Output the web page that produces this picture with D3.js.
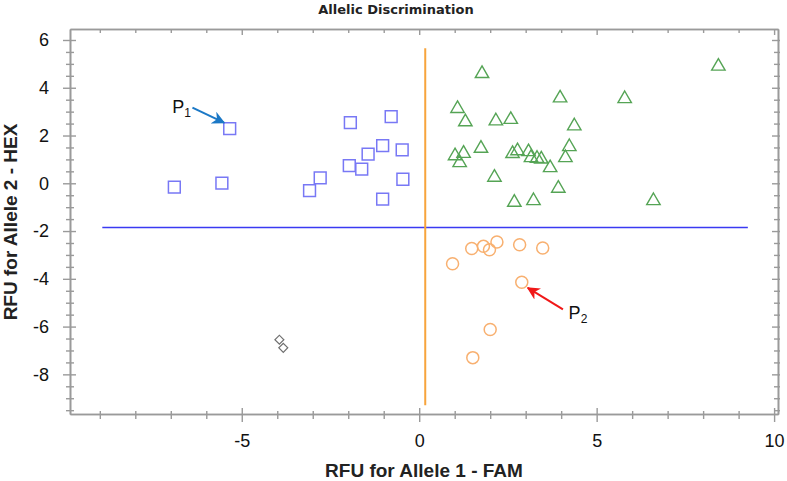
<!DOCTYPE html>
<html>
<head>
<meta charset="utf-8">
<script src="https://cdn.jsdelivr.net/npm/d3@7/dist/d3.min.js"></script>
<style>
  html, body { margin: 0; padding: 0; background: #fff; }
  svg { display: block; font-family: "Liberation Sans", Arial, sans-serif; }
</style>
</head>
<body>
<svg id="chart" width="787" height="481"></svg>
<script>
// ---------- data ----------
const title = "Allelic Discrimination";
const xLabel = "RFU for Allele 1 - FAM";
const yLabel = "RFU for Allele 2 - HEX";

const xMajorTicks = [-5, 0, 5, 10];
const yMajorTicks = [-8, -6, -4, -2, 0, 2, 4, 6];

// Allele 2 homozygotes (blue squares)
const allele2X = [-6.90, -5.56, -5.34, -1.94, -0.79, -1.03, -0.48, -1.44, -1.97, -1.62, -2.79, -3.09, -0.46, -1.03];
const allele2Y = [-0.16, 0.01, 2.29, 2.54, 2.79, 1.58, 1.40, 1.22, 0.74, 0.59, 0.23, -0.31, 0.17, -0.66];

// Heterozygotes (green triangles)
const heteroX = [1.77, 3.97, 1.08, 1.30, 2.16, 2.58, 4.37, 1.74, 1.01, 1.25, 1.14, 2.63, 2.77, 3.08, 3.15, 3.32, 3.44, 3.69, 4.23, 4.12, 2.12, 3.92, 2.68, 3.22, 5.79, 8.43, 6.60];
const heteroY = [4.67, 3.65, 3.21, 2.65, 2.69, 2.75, 2.48, 1.54, 1.23, 1.33, 0.94, 1.32, 1.44, 1.40, 1.15, 1.12, 1.09, 0.73, 1.61, 1.15, 0.33, -0.13, -0.72, -0.65, 3.62, 4.98, -0.65];

// Allele 1 homozygotes (orange circles)
const allele1X = [0.94, 1.48, 1.81, 1.98, 2.19, 2.83, 3.48, 2.89, 2.00, 1.51];
const allele1Y = [-3.37, -2.73, -2.64, -2.78, -2.46, -2.57, -2.71, -4.14, -6.12, -7.30];

// No template controls (gray diamonds)
const ntcX = [-3.94, -3.83];
const ntcY = [-6.55, -6.89];

// Threshold lines
const hLine = { y: -1.85, x0: -8.93, x1: 9.26 };
const vLine = { x: 0.17, y0: 5.65, y1: -9.29 };

// Annotations (data coordinates)
const annotations = [
  { label: "P", sub: "1", tx: -6.96, ty: 2.94, ax0: -6.39, ay0: 3.17, ax1: -5.50, ay1: 2.54, color: "#1b78c6" },
  { label: "P", sub: "2", tx: 4.21, ty: -5.68, ax0: 4.05, ay0: -5.28, ax1: 3.06, ay1: -4.38, color: "#f01818" }
];

// ---------- layout ----------
const svg = d3.select("#chart");
const L = 70, R = 778, T = 29, B = 414;
const x = d3.scaleLinear().domain([-9.84, 10.11]).range([L, R]);
const y = d3.scaleLinear().domain([-9.66, 6.46]).range([B, T]);

const axisColor = "#9a9a9a";
const xMinor = d3.range(-9, 11, 1).filter(v => !xMajorTicks.includes(v));
const yMinor = d3.range(-9.5, 6.5, 0.5).filter(v => !yMajorTicks.includes(v));

function styleAxis(g) {
  g.select(".domain").attr("stroke", axisColor).attr("stroke-width", 1.6);
  g.selectAll(".tick line").attr("stroke", axisColor).attr("stroke-width", 1.4);
  g.selectAll(".tick text").attr("fill", "#111").style("font-size", "18px")
    .style("font-family", "'Liberation Sans', Arial, sans-serif");
}

// bottom axis
svg.append("g").attr("transform", `translate(0,${B})`)
  .call(d3.axisBottom(x).tickValues(xMinor).tickSize(5).tickSizeOuter(0).tickFormat(""))
  .call(styleAxis).call(g => g.selectAll(".tick line").attr("y1", -3));
svg.append("g").attr("transform", `translate(0,${B})`)
  .call(d3.axisBottom(x).tickValues(xMajorTicks).tickSize(8).tickSizeOuter(0).tickPadding(12).tickFormat(d3.format("d")))
  .call(styleAxis).call(g => g.selectAll(".tick line").attr("y1", -6))
  .call(g => g.selectAll(".tick text").text(d => d < 0 ? "-" + Math.abs(d) : d));

// left axis
svg.append("g").attr("transform", `translate(${L},0)`)
  .call(d3.axisLeft(y).tickValues(yMinor).tickSize(4).tickSizeOuter(0).tickFormat(""))
  .call(styleAxis).call(g => g.selectAll(".tick line").attr("x1", 4));
svg.append("g").attr("transform", `translate(${L},0)`)
  .call(d3.axisLeft(y).tickValues(yMajorTicks).tickSize(7).tickSizeOuter(0).tickPadding(14))
  .call(styleAxis).call(g => g.selectAll(".tick line").attr("x1", 6))
  .call(g => g.selectAll(".tick text").text(d => d < 0 ? "-" + Math.abs(d) : d));

// top axis (ticks inside)
svg.append("g").attr("transform", `translate(0,${T})`)
  .call(d3.axisTop(x).tickValues(xMinor).tickSize(-4).tickSizeOuter(0).tickFormat(""))
  .call(styleAxis);
svg.append("g").attr("transform", `translate(0,${T})`)
  .call(d3.axisTop(x).tickValues(xMajorTicks).tickSize(-6).tickSizeOuter(0).tickFormat(""))
  .call(styleAxis);

// right axis (ticks inside)
svg.append("g").attr("transform", `translate(${R},0)`)
  .call(d3.axisRight(y).tickValues(yMinor).tickSize(-4).tickSizeOuter(0).tickFormat(""))
  .call(styleAxis).call(g => g.selectAll(".tick line").attr("x1", 2));
svg.append("g").attr("transform", `translate(${R},0)`)
  .call(d3.axisRight(y).tickValues(yMajorTicks).tickSize(-6).tickSizeOuter(0).tickFormat(""))
  .call(styleAxis).call(g => g.selectAll(".tick line").attr("x1", 2));

// ---------- threshold lines ----------
svg.append("line")
  .attr("x1", x(hLine.x0)).attr("x2", x(hLine.x1))
  .attr("y1", y(hLine.y)).attr("y2", y(hLine.y))
  .attr("stroke", "#3a3af2").attr("stroke-width", 1.6);
svg.append("line")
  .attr("x1", x(vLine.x)).attr("x2", x(vLine.x))
  .attr("y1", y(vLine.y0)).attr("y2", y(vLine.y1))
  .attr("stroke", "#f7a43c").attr("stroke-width", 2);

// ---------- markers ----------
const zip = (xs, ys) => xs.map((v, i) => [v, ys[i]]);
const gPts = svg.append("g");

gPts.selectAll(".sq").data(zip(allele2X, allele2Y)).join("path")
  .attr("d", d3.symbol(d3.symbolSquare, 140)())
  .attr("transform", d => `translate(${x(d[0])},${y(d[1])})`)
  .attr("fill", "none").attr("stroke", "#7878f5").attr("stroke-width", 1.5);

const triSize = 78, triH = Math.sqrt(triSize * Math.sqrt(3));
gPts.selectAll(".tri").data(zip(heteroX, heteroY)).join("path")
  .attr("d", d3.symbol(d3.symbolTriangle, triSize)())
  .attr("transform", d => `translate(${x(d[0])},${y(d[1]) + triH / 6})`)
  .attr("fill", "none").attr("stroke", "#55a455").attr("stroke-width", 1.4);

gPts.selectAll(".ci").data(zip(allele1X, allele1Y)).join("circle")
  .attr("cx", d => x(d[0])).attr("cy", d => y(d[1])).attr("r", 6)
  .attr("fill", "none").attr("stroke", "#f8b070").attr("stroke-width", 1.5);

gPts.selectAll(".di").data(zip(ntcX, ntcY)).join("path")
  .attr("d", d3.symbol(d3.symbolSquare, 40)())
  .attr("transform", d => `translate(${x(d[0])},${y(d[1])}) rotate(45)`)
  .attr("fill", "none").attr("stroke", "#707070").attr("stroke-width", 1.2);

// ---------- annotations ----------
const defs = svg.append("defs");
annotations.forEach((a, i) => {
  defs.append("marker").attr("id", "arr" + i)
    .attr("viewBox", "0 0 10 10").attr("refX", 9).attr("refY", 5)
    .attr("markerWidth", 6.5).attr("markerHeight", 6.5).attr("markerUnits", "strokeWidth")
    .attr("orient", "auto")
    .append("path").attr("d", "M0,0 L10,5 L0,10 L3,5 Z").attr("fill", a.color);
  svg.append("line")
    .attr("x1", x(a.ax0)).attr("y1", y(a.ay0))
    .attr("x2", x(a.ax1)).attr("y2", y(a.ay1))
    .attr("stroke", a.color).attr("stroke-width", 2)
    .attr("marker-end", `url(#arr${i})`);
  const t = svg.append("text").attr("x", x(a.tx)).attr("y", y(a.ty))
    .attr("fill", "#111").style("font-size", "18px");
  t.append("tspan").text(a.label);
  t.append("tspan").attr("dy", 4).style("font-size", "12px").text(a.sub);
});

// ---------- titles ----------
svg.append("text").attr("x", 396).attr("y", 14).attr("text-anchor", "middle")
  .style("font-family", "'DejaVu Sans', Verdana, sans-serif")
  .style("font-weight", "bold").style("font-size", "13px").attr("fill", "#222")
  .text(title);

svg.append("text").attr("x", 424).attr("y", 477).attr("text-anchor", "middle")
  .style("font-weight", "bold").style("font-size", "19px").attr("fill", "#222")
  .text(xLabel);

svg.append("text").attr("transform", `translate(17,222) rotate(-90)`).attr("text-anchor", "middle")
  .style("font-weight", "bold").style("font-size", "19px").attr("fill", "#222")
  .text(yLabel);
</script>
</body>
</html>
